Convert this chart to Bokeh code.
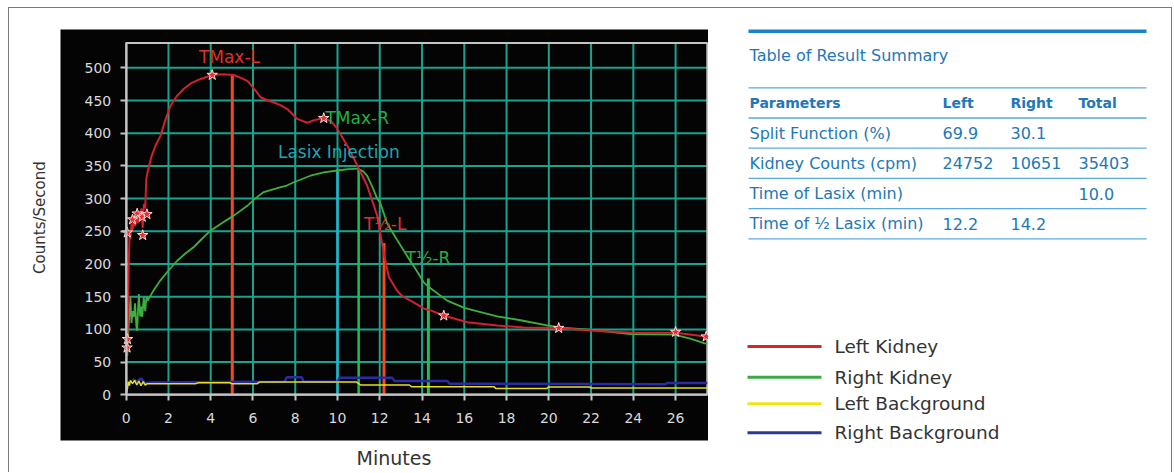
import math
from bokeh.plotting import figure
from bokeh.models import Range1d, FixedTicker, ColumnDataSource
from bokeh.layouts import row
from bokeh.core.properties import value
from bokeh.embed import file_html
from bokeh.resources import INLINE

# ------------------------------------------------------------------ data
left_kidney_t = [0.0, 0.05, 0.08, 0.12, 0.16, 0.2, 0.25, 0.3, 0.36, 0.42, 0.48, 0.54, 0.6,
                 0.66, 0.72, 0.78, 0.84, 0.9, 0.95, 1.02, 1.2, 1.4, 1.62, 1.85, 2.1, 2.4,
                 2.73, 3.1, 3.52, 4.07, 4.6, 5.09, 5.4, 5.73, 6.0, 6.36, 6.7, 6.99, 7.3,
                 7.62, 8.09, 8.57, 8.9, 9.35, 9.7, 9.99, 10.46, 10.93, 11.4, 11.88, 12.03,
                 12.2, 12.43, 12.82, 13.1, 13.46, 14.08, 14.5, 15.03, 15.6, 16.14, 17.56,
                 18.82, 20.47, 22.13, 24.02, 26.0, 27.42, 27.55]
left_kidney_v = [55, 75, 120, 200, 245, 238, 262, 250, 271, 258, 276, 262, 277,
                 268, 285, 255, 292, 285, 330, 342, 365, 382, 396, 420, 442, 457,
                 468, 477, 483, 489, 490, 489, 485, 480, 470, 455, 450, 447, 443,
                 437, 422, 416, 420, 423, 418, 407, 381, 351, 320, 274, 246,
                 215, 180, 159, 150, 144, 132, 128, 121, 116, 111, 106,
                 103, 102, 98, 95, 95, 89, 88]

right_kidney_t = [0.05, 0.09, 0.12, 0.16, 0.2, 0.25, 0.3, 0.36, 0.42, 0.48, 0.52, 0.56, 0.6,
                  0.66, 0.72, 0.76, 0.83, 0.9, 0.96, 1.02, 1.3, 1.62, 2.0, 2.41, 2.8, 3.2,
                  3.6, 3.99, 4.5, 5.09, 5.73, 6.1, 6.51, 7.15, 7.6, 7.93, 8.72, 9.35, 9.99,
                  10.5, 10.93, 11.2, 11.4, 11.65, 11.88, 12.03, 12.35, 12.8, 13.3, 13.7,
                  14.08, 14.4, 15.19, 16.0, 16.45, 17.56, 18.66, 19.92, 20.5, 22.13, 23.87,
                  25.92, 26.7, 27.34, 27.5]
right_kidney_v = [60, 85, 108, 130, 149, 110, 128, 119, 140, 105, 98, 130, 154,
                  120, 135, 119, 149, 128, 150, 144, 160, 175, 190, 205, 216, 226,
                  239, 251, 262, 274, 289, 300, 310, 316, 320, 325, 335, 340, 343,
                  345, 346, 342, 335, 318, 300, 293, 262, 238, 212, 192,
                  172, 163, 144, 133, 129, 120, 114, 106, 103, 99, 93,
                  92, 86, 79, 78]

left_bg_t = [0.0, 0.05, 0.1, 0.15, 0.2, 0.3, 0.4, 0.5, 0.6, 0.7, 0.8, 0.9, 1.0, 1.2, 3.3,
             3.4, 4.9, 5.0, 6.2, 6.3, 10.9, 11.1, 13.4, 13.5, 17.4, 17.5, 19.9, 20.0,
             21.9, 22.0, 27.5]
left_bg_v = [0, 8, 20, 14, 22, 17, 22, 15, 21, 14, 20, 15, 17, 17, 17,
             18.5, 18.5, 17, 17, 19.5, 19.5, 15, 15, 12.5, 12.5, 9.5, 9.5, 12,
             12, 10.5, 10.5]

right_bg_t = [0.3, 0.5, 0.7, 0.9, 1.2, 7.5, 7.6, 8.3, 8.4, 10.0, 10.1, 12.6, 12.7, 15.2,
              15.3, 25.5, 25.6, 27.5]
right_bg_v = [24, 20, 25, 18, 19, 20, 27, 27, 20, 20, 26, 26, 21, 21,
              17, 16, 18, 18]

star_t = [0.04, 0.06, 0.05, 0.3, 0.52, 0.76, 0.78, 0.98, 4.07, 9.35, 15.03, 20.47, 26.0, 27.45]
star_v = [72, 85, 248, 268, 277, 272, 244, 276, 489, 423, 121, 102, 96, 89]

event_t = [5.02, 10.0, 11.0, 12.2, 14.3]
event_top = [488, 345, 346, 232, 178]

annot_text = ["TMax-L", "TMax-R", "Lasix Injection", "T½-L", "T½-R"]
annot_t = [3.44, 9.43, 7.18, 11.25, 13.22]
annot_v = [517, 423.5, 372, 261.5, 209.5]

x_ticks = list(range(0, 27, 2))
y_ticks = list(range(0, 501, 50))
x_title = "Minutes"
y_title = "Counts/Second"

table_title = "Table of Result Summary"
table_header = ["Parameters", "Left", "Right", "Total"]
table_rows = [
    ["Split Function (%)", "69.9", "30.1", ""],
    ["Kidney Counts (cpm)", "24752", "10651", "35403"],
    ["Time of Lasix (min)", "", "", "10.0"],
    ["Time of ½ Lasix (min)", "12.2", "14.2", ""],
]
legend_labels = ["Left Kidney", "Right Kidney", "Left Background", "Right Background"]

# ------------------------------------------------------------------ styles
RED = "#d31f2e"
GREEN = "#3eae3e"
YELLOW = "#e6de1e"
BLUE = "#2a2aa6"
GRID = "#18a38e"
AXIS = "#c4c4c4"
event_colors = ["#f04a1e", "#1fb8d4", "#22c046", "#f04a1e", "#22c046"]
event_widths = [3, 2.5, 2.5, 3, 3]
annot_colors = ["#e0302a", "#22b040", "#1ea6b4", "#e0302a", "#22b040"]
legend_colors = ["#d7262b", "#3aaa47", "#f2e318", "#2b3990"]
TBLUE = "#2277b8"
FONT = "DejaVu Sans"

# the whole left panel is the plot frame; the black "screen" is a box inside it
X0, X1 = -5.523, 27.557
Y0, Y1 = -118.8, 590.7
SCREEN = dict(left=-3.109, right=27.6, bottom=-69.9, top=558.6)
XF, YF = 27.5, 538          # grey plot frame of the scintigraphy screen

# ------------------------------------------------------------------ chart
p = figure(frame_width=699, frame_height=464,
           x_range=Range1d(X0, X1), y_range=Range1d(Y0, Y1),
           output_backend="svg", toolbar_location=None,
           min_border_left=0, min_border_right=0, min_border_top=0, min_border_bottom=0,
           background_fill_color="white", border_fill_color="white",
           outline_line_color=None)
p.xgrid.visible = False
p.ygrid.visible = False

p.quad(fill_color="#040404", line_color=None, **SCREEN)

gx = [t for t in x_ticks if t > 0]
gy = [v for v in y_ticks if v > 0]
p.segment(x0=gx, y0=0, x1=gx, y1=YF, line_color=GRID, line_width=2)
p.segment(x0=0, y0=gy, x1=XF, y1=gy, line_color=GRID, line_width=2)
p.quad(left=0, right=XF, bottom=0, top=YF, fill_color=None, line_color=AXIS, line_width=2)

ev = ColumnDataSource(dict(x=event_t, top=event_top, c=event_colors, w=event_widths))
p.segment(x0="x", y0=0, x1="x", y1="top", line_color="c", line_width="w", source=ev)

p.line(right_bg_t, right_bg_v, line_color=BLUE, line_width=2.5)
p.line(left_bg_t, left_bg_v, line_color=YELLOW, line_width=1.5)
p.line(right_kidney_t, right_kidney_v, line_color=GREEN, line_width=1.8)
p.line(left_kidney_t, left_kidney_v, line_color=RED, line_width=2)
p.scatter(star_t, star_v, marker="star", size=11, fill_color="#ee2a2a",
          line_color="#ffd8d8", line_width=1)

an = ColumnDataSource(dict(x=annot_t, y=annot_v, t=annot_text, c=annot_colors))
p.text(x="x", y="y", text="t", text_color="c", source=an, text_font=value(FONT),
       text_font_size="17px", text_baseline="middle", text_align="left")

xa = p.xaxis[0]
ya = p.yaxis[0]
for ax, b, tk in ((xa, (0, XF), x_ticks), (ya, (0, YF), y_ticks)):
    ax.fixed_location = 0
    ax.bounds = b
    ax.ticker = FixedTicker(ticks=tk)
    ax.axis_line_color = AXIS
    ax.axis_line_width = 2
    ax.major_tick_line_color = AXIS
    ax.major_tick_line_width = 2
    ax.major_tick_out = 6
    ax.major_tick_in = 0
    ax.minor_tick_line_color = None
    ax.major_label_text_color = "#dadada"
    ax.major_label_text_font = FONT
    ax.major_label_text_font_size = "14px"
xa.major_label_standoff = 12
ya.major_label_standoff = 9

# axis titles, outside the black screen like in the report
p.text(x=[-4.10], y=[271], text=[y_title], angle=math.pi / 2, text_align="center",
       text_baseline="middle", text_font=value(FONT), text_font_size="15px",
       text_color="#333333")
p.text(x=[12.67], y=[-95.9], text=[x_title], text_align="center",
       text_baseline="middle", text_font=value(FONT), text_font_size="19px",
       text_color="#333333")

# ------------------------------------------------------------------ table + legend
# this panel uses page-pixel coordinates (x to the right, y downward)
t = figure(frame_width=463, frame_height=464,
           x_range=Range1d(708, 1171), y_range=Range1d(472, 8),
           output_backend="svg", toolbar_location=None,
           min_border_left=0, min_border_right=0, min_border_top=0, min_border_bottom=0,
           x_axis_location=None, y_axis_location=None,
           outline_line_color=None, background_fill_color="white", border_fill_color="white")
t.grid.visible = False

LX0, LX1 = 748, 1146
col_x = [749, 942, 1010, 1078]
TOP_LINE = 30.7
TITLE_Y = 55
TABLE_TOP = 87.3
ROW_H = 30.2

t.segment(x0=LX0, y0=TOP_LINE, x1=LX1, y1=TOP_LINE, line_color="#1c82c8", line_width=3.5)
t.text(x=[col_x[0]], y=[TITLE_Y], text=[table_title], text_color=TBLUE,
       text_font=value(FONT), text_font_size="16px", text_baseline="middle")

n_lines = len(table_rows) + 2
ly = [TABLE_TOP + i * ROW_H for i in range(n_lines)]
t.segment(x0=LX0, y0=ly, x1=LX1, y1=ly, line_color="#5aa9dc", line_width=1.3)

hy = TABLE_TOP + 0.5 * ROW_H
t.text(x=col_x, y=[hy] * 4, text=table_header, text_color=TBLUE, text_font=value(FONT),
       text_font_size="14px", text_font_style="bold", text_baseline="middle")
for i, r in enumerate(table_rows):
    yy = TABLE_TOP + (i + 1.5) * ROW_H
    t.text(x=col_x, y=[yy] * 4, text=r, text_color=TBLUE, text_font=value(FONT),
           text_font_size="16px", text_baseline="middle")

legend_y = [346, 376.7, 403.3, 432.3]
t.segment(x0=747, y0=legend_y, x1=821, y1=legend_y, line_color=legend_colors, line_width=3)
t.text(x=[834] * 4, y=legend_y, text=legend_labels, text_color="#333333",
       text_font=value(FONT), text_font_size="18.5px", text_baseline="middle")

layout = row(p, t, styles={"margin-left": "8px", "margin-top": "7px",
                           "border-left": "1px solid #7a7a7a", "border-top": "1px solid #7a7a7a",
                           "border-right": "1px solid #7a7a7a"})

open("out.html", "w").write(file_html(layout, INLINE))
